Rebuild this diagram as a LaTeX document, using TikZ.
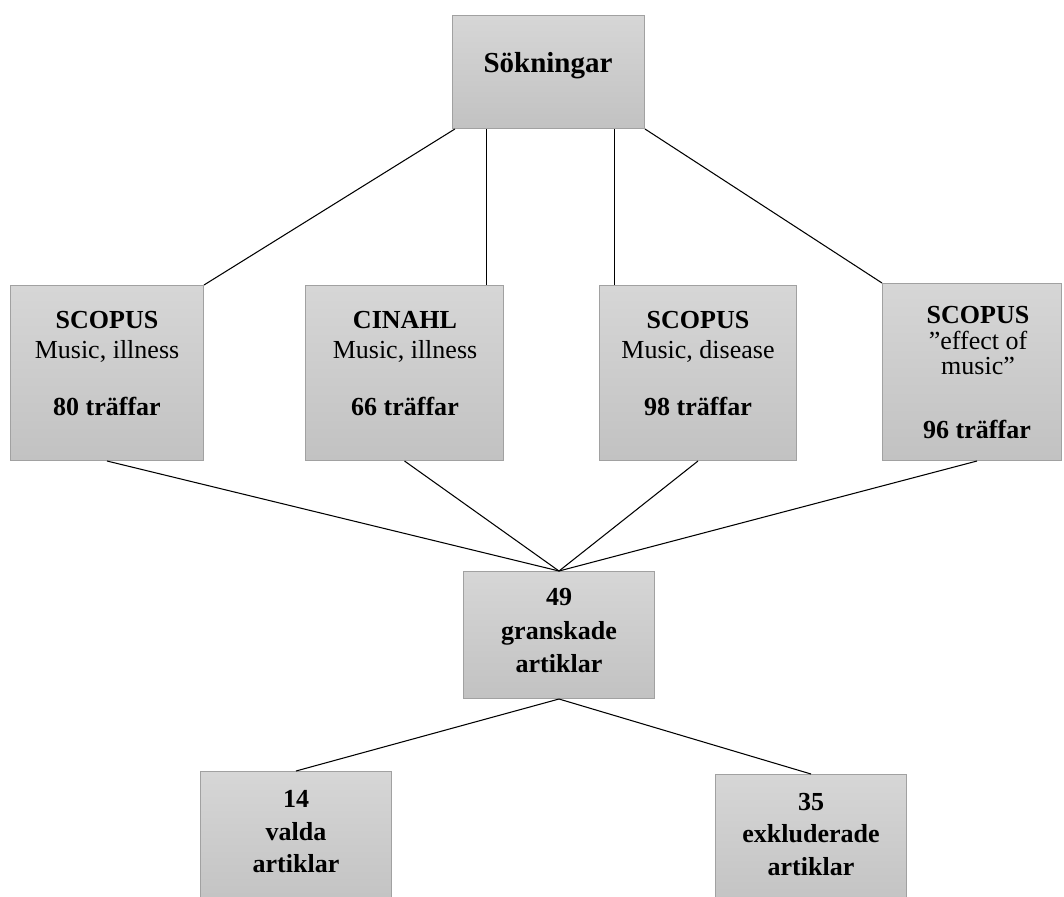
\documentclass[tikz,border=0pt]{standalone}
\usepackage{fontspec}
\setmainfont{Liberation Serif}
\usetikzlibrary{calc}
\tikzset{
  box/.style={draw=black!37, line width=0.7pt, top color=black!16, bottom color=black!24, inner sep=0pt, anchor=north west},
  conn/.style={draw=black, line width=0.6pt},
  txt/.style={anchor=base, inner sep=0pt, font=\fontsize{14.8}{17}\selectfont},
  btxt/.style={txt, font=\fontsize{14.8}{17}\selectfont\bfseries},
}
\newcommand{\boxat}[5]{%
  \node[box, minimum width=#4*0.02cm-0.7pt, minimum height=#5*0.02cm-0.7pt] (#1) at (#2,#3) {};}
\begin{document}
\begin{tikzpicture}[x=0.02cm, y=-0.02cm]
\useasboundingbox (0,0) rectangle (1064,896);
\clip (0,0) rectangle (1064,896);
% boxes
\boxat{s}{452}{15}{193}{114}
\boxat{b1}{10}{285}{194}{176}
\boxat{b2}{305}{285}{199}{176}
\boxat{b3}{599}{285}{198}{176}
\boxat{b4}{882}{283}{180}{178}
\boxat{b49}{463}{571}{192}{128}
\boxat{b14}{200}{771}{192}{140}
\boxat{b35}{715}{774}{192}{140}
% texts
\node[btxt, font=\fontsize{16.5}{19}\selectfont\bfseries] (ts) at (548,72) {Sökningar};
\node[btxt] (t1a) at (107,328) {SCOPUS};
\node[txt]  (t1b) at (107,358) {Music, illness};
\node[btxt] (t1c) at (107,415) {80 träffar};
\node[btxt] (t2a) at (405,328) {CINAHL};
\node[txt]  (t2b) at (405,358) {Music, illness};
\node[btxt] (t2c) at (405,415) {66 träffar};
\node[btxt] (t3a) at (698,328) {SCOPUS};
\node[txt]  (t3b) at (698,358) {Music, disease};
\node[btxt] (t3c) at (698,415) {98 träffar};
\node[btxt] (t4a) at (978,323) {SCOPUS};
\node[txt]  (t4b) at (978,349) {”effect of};
\node[txt]  (t4c) at (978,374) {music”};
\node[btxt] (t4d) at (977,438) {96 träffar};
\node[btxt] (t5a) at (559,605) {49};
\node[btxt] (t5b) at (559,639) {granskade};
\node[btxt] (t5c) at (559,672) {artiklar};
\node[btxt] (t6a) at (296,807) {14};
\node[btxt] (t6b) at (296,840) {valda};
\node[btxt] (t6c) at (296,872) {artiklar};
\node[btxt] (t7a) at (811,810) {35};
\node[btxt] (t7b) at (811,842) {exkluderade};
\node[btxt] (t7c) at (811,875) {artiklar};
% connectors
\coordinate (p2) at ($(s.south west)!0.1788!(s.south east)$);
\coordinate (p3) at ($(s.south west)!0.842!(s.south east)$);
\draw[conn] ($(s.south west)!0.015!(s.south east)$) -- (b1.north east);
\draw[conn] (p2) -- (p2 |- b2.north);
\draw[conn] (p3) -- (p3 |- b3.north);
\draw[conn] (s.south east) -- (b4.north west);
\draw[conn] (b1.south) -- (b49.north);
\draw[conn] (b2.south) -- (b49.north);
\draw[conn] (b3.south) -- (b49.north);
\draw[conn] ($(b4.south)+(5,0)$) -- (b49.north);
\draw[conn] (b49.south) -- (b14.north);
\draw[conn] (b49.south) -- (b35.north);
\end{tikzpicture}
\end{document}
